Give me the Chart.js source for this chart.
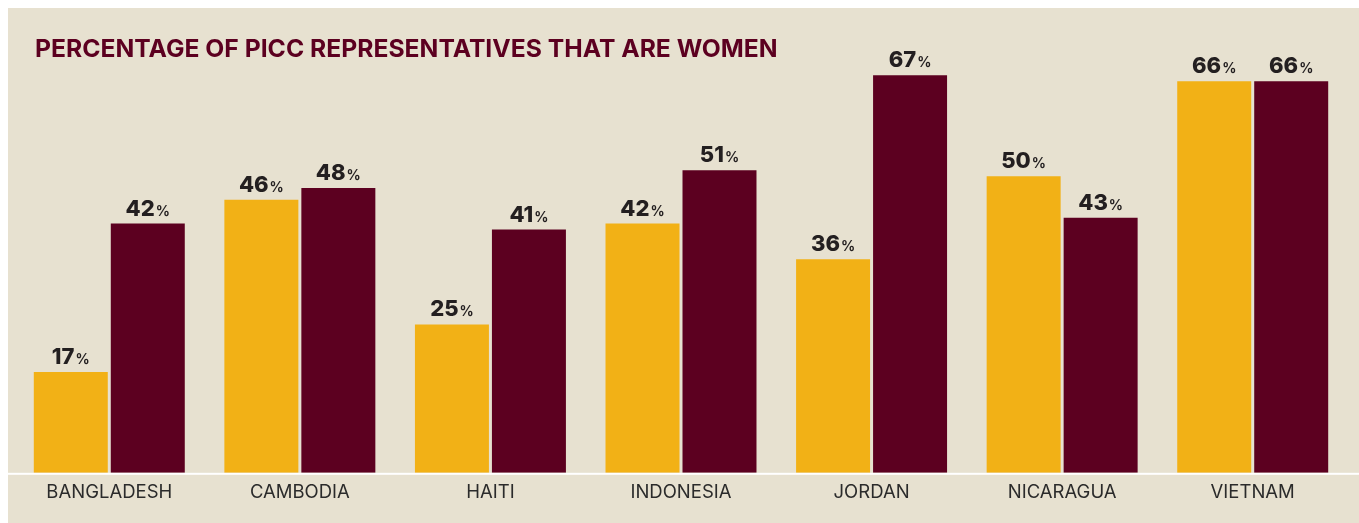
<!DOCTYPE html>
<html>
<head>
<meta charset="utf-8">
<script src="https://cdn.jsdelivr.net/npm/chart.js@4.4.1/dist/chart.umd.min.js"></script>
<style>
  html, body { margin: 0; padding: 0; background: #ffffff; }
  #wrap { position: absolute; left: 8px; top: 8px; width: 1351px; height: 515px; background: #e7e1d0; }
</style>
</head>
<body>
<div id="wrap"><canvas id="chart"></canvas></div>
<script>
const countries = ['BANGLADESH', 'CAMBODIA', 'HAITI', 'INDONESIA', 'JORDAN', 'NICARAGUA', 'VIETNAM']
const seriesA = [17, 46, 25, 42, 36, 50, 66]
const seriesB = [42, 48, 41, 51, 67, 43, 66]
const titleText = 'PERCENTAGE OF PICC REPRESENTATIVES THAT ARE WOMEN'

const FONT = 'Inter, "Noto Sans", sans-serif'

// title, white baseline and the "NN%" labels above the bars
const decorations = {
    id: 'decorations',
    beforeDatasetsDraw(chart){
        const { ctx, chartArea } = chart
        ctx.save()
        ctx.fillStyle = '#ffffff'
        ctx.fillRect(0, chartArea.bottom, chart.width, 2)
        ctx.fillStyle = '#5c0020'
        ctx.font = '700 24.7px ' + FONT
        ctx.textBaseline = 'alphabetic'
        ctx.textAlign = 'left'
        ctx.fillText(titleText, 27, 49)
        ctx.restore()
    },
    afterDatasetsDraw(chart){
        const { ctx } = chart
        ctx.save()
        ctx.fillStyle = '#231f20'
        ctx.textBaseline = 'alphabetic'
        ctx.textAlign = 'left'
        chart.data.datasets.forEach((ds, i) => {
            chart.getDatasetMeta(i).data.forEach((bar, j) => {
                const num = String(ds.data[j])
                ctx.font = '800 22px ' + FONT
                const w1 = ctx.measureText(num).width
                ctx.font = '700 14px ' + FONT
                const w2 = ctx.measureText('%').width
                const x0 = bar.x - (w1 + w2 + 1) / 2
                const y = bar.y - 8
                ctx.font = '800 22px ' + FONT
                ctx.fillText(num, x0, y)
                ctx.font = '700 14px ' + FONT
                ctx.fillText('%', x0 + w1 + 1, y)
            })
        })
        ctx.restore()
    }
}

new Chart(document.getElementById('chart'), {
    type: 'bar',
    data: {
        labels: countries,
        datasets: [{
            label: 'A',
            data: seriesA,
            backgroundColor: '#f2b116'
        }, {
            label: 'B',
            data: seriesB,
            backgroundColor: '#5c0020'
        }]
    },
    options: {
        responsive: true,
        maintainAspectRatio: false,
        animation: false,
        categoryPercentage: 0.808,
        barPercentage: 0.961,
        layout: { padding: { left: 6, right: 11, top: 2, bottom: 10 } },
        plugins: {
            legend: { display: false },
            tooltip: { enabled: false }
        },
        scales: {
            x: {
                grid: { display: false, drawTicks: false },
                border: { display: false },
                ticks: {
                    color: '#2b2b2b',
                    padding: 9,
                    font: { family: FONT, size: 18.5, weight: '400' }
                }
            },
            y: {
                display: false,
                min: 0,
                max: 78
            }
        }
    },
    plugins: [decorations]
})
</script>
</body>
</html>
